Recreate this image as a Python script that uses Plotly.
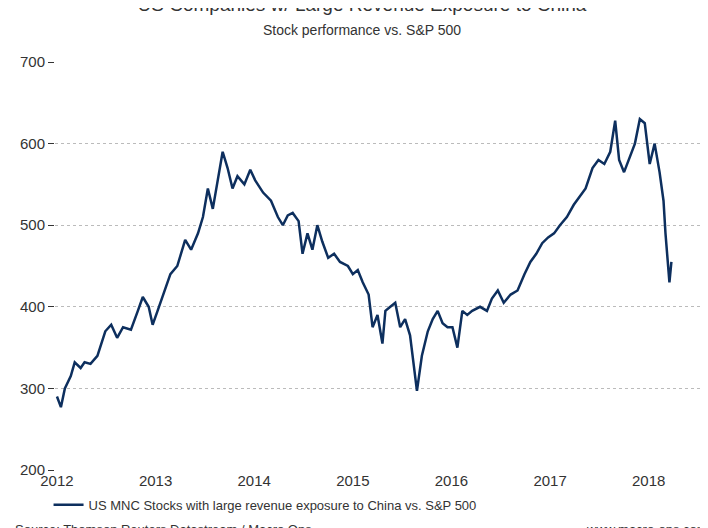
import plotly.graph_objects as go

# time as decimal years, values = index vs S&P 500
anos = [2012.00, 2012.04, 2012.08, 2012.14, 2012.18, 2012.24, 2012.28, 2012.34, 2012.41, 2012.49,
        2012.55, 2012.61, 2012.67, 2012.75, 2012.82, 2012.87, 2012.93, 2012.97, 2013.02, 2013.09,
        2013.15, 2013.22, 2013.30, 2013.36, 2013.43, 2013.48, 2013.53, 2013.58, 2013.63, 2013.68,
        2013.73, 2013.78, 2013.83, 2013.90, 2013.96, 2014.01, 2014.09, 2014.17, 2014.24, 2014.29,
        2014.34, 2014.39, 2014.45, 2014.49, 2014.54, 2014.59, 2014.64, 2014.69, 2014.75, 2014.81,
        2014.87, 2014.95, 2015.00, 2015.05, 2015.10, 2015.16, 2015.20, 2015.25, 2015.30, 2015.33,
        2015.38, 2015.43, 2015.48, 2015.53, 2015.58, 2015.62, 2015.65, 2015.70, 2015.76, 2015.81,
        2015.86, 2015.91, 2015.96, 2016.01, 2016.06, 2016.11, 2016.16, 2016.21, 2016.29, 2016.36,
        2016.41, 2016.47, 2016.53, 2016.60, 2016.67, 2016.74, 2016.80, 2016.86, 2016.92, 2016.98,
        2017.04, 2017.10, 2017.17, 2017.24, 2017.30, 2017.36, 2017.43, 2017.49, 2017.55, 2017.61,
        2017.66, 2017.70, 2017.75, 2017.81, 2017.86, 2017.91, 2017.96, 2018.01, 2018.06, 2018.11,
        2018.15, 2018.17, 2018.19, 2018.21, 2018.23]
valores = [290, 277, 300, 315, 332, 325, 332, 330, 340, 370,
           378, 362, 375, 372, 395, 412, 400, 378, 395, 420,
           440, 450, 482, 470, 490, 510, 545, 520, 555, 590,
           570, 545, 560, 550, 568, 555, 540, 530, 510, 500,
           512, 515, 505, 465, 490, 470, 500, 480, 460, 465,
           455, 450, 440, 445, 430, 415, 375, 390, 355, 395,
           400, 405, 375, 385, 365, 330, 297, 340, 370, 385,
           395, 380, 375, 375, 350, 395, 390, 395, 400, 395,
           410, 420, 405, 415, 420, 440, 455, 465, 478, 485,
           490, 500, 510, 525, 535, 545, 570, 580, 575, 590,
           628, 580, 565, 585, 600, 630, 625, 575, 600, 565,
           530, 490, 460, 430, 455]

anos_ticks = [2012, 2013, 2014, 2015, 2016, 2017, 2018]

fig = go.Figure(go.Scatter(
    x=anos, y=valores, mode='lines',
    line=dict(color='#0d2f5e', width=2.5),
    name='US MNC Stocks with large revenue exposure to China vs. S&P 500'))

fig.update_layout(
    width=708, height=528,
    paper_bgcolor='white', plot_bgcolor='white',
    font=dict(family='Liberation Sans, Arial', color='#333', size=14),
    margin=dict(l=42, r=16, t=54, b=66),
    title=dict(text='US Companies w/ Large Revenue Exposure to China'
                    '<br><span style="font-size:14px">Stock performance vs. S&P 500</span>',
               x=0.5, y=0.995, xanchor='center', yanchor='top', font=dict(size=19)),
    xaxis=dict(range=[2011.98, 2018.52], tickvals=anos_ticks,
               ticktext=[str(a) for a in anos_ticks], showgrid=False,
               zeroline=False, tickfont=dict(size=15)),
    yaxis=dict(range=[200, 700], dtick=100, showgrid=True, gridcolor='#bbb',
               griddash='dot', zeroline=False, ticks='outside', ticklen=6,
               tickcolor='#333', tickfont=dict(size=15)),
    showlegend=True,
    legend=dict(x=-0.01, y=-0.085, xanchor='left', yanchor='middle', font=dict(size=13)),
)

fig.add_annotation(text='Source: Thomson Reuters Datastream / Macro Ops', xref='paper', yref='paper',
                   x=-0.065, y=-0.145, xanchor='left', yanchor='middle', showarrow=False, font=dict(size=13))
fig.add_annotation(text='www.macro-ops.com', xref='paper', yref='paper',
                   x=1.015, y=-0.145, xanchor='right', yanchor='middle', showarrow=False, font=dict(size=13))

fig.write_html('out.html')
